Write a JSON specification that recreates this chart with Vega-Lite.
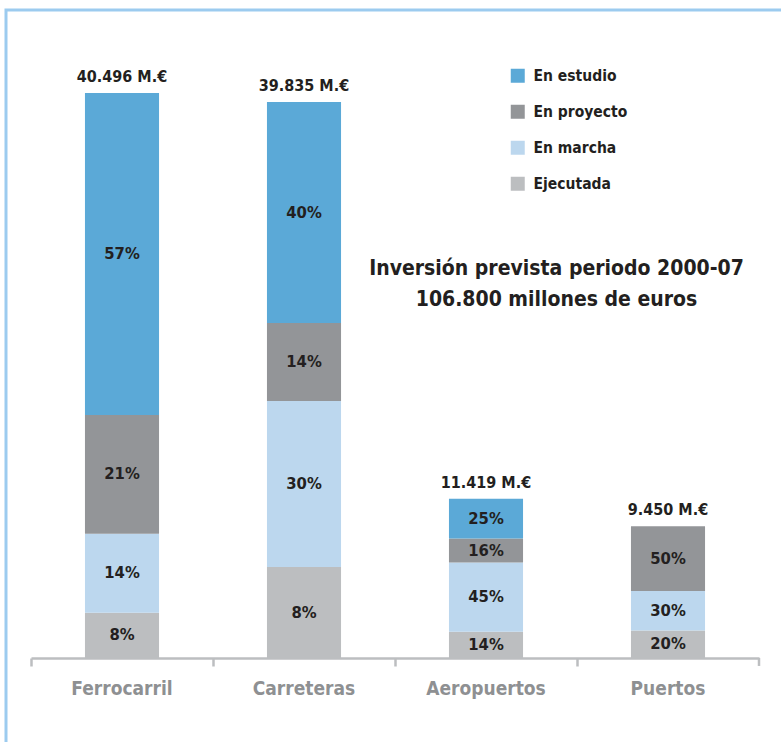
{
  "$schema": "https://vega.github.io/schema/vega-lite/v6.json",
  "autosize": "none",
  "width": 785,
  "height": 742,
  "padding": {"left": 6, "top": 10, "right": -10, "bottom": -10},
  "background": "white",
  "title": {
    "text": ["Inversión prevista periodo 2000-07", "106.800 millones de euros"],
    "anchor": "middle",
    "orient": "top",
    "baseline": "top",
    "offset": 0,
    "dx": 158,
    "dy": 300,
    "lineHeight": 31,
    "font": "Liberation Sans Narrow, DejaVu Sans Condensed, sans-serif",
    "fontSize": 21,
    "fontWeight": "bold",
    "color": "#231f20"
  },
  "datasets": {
    "tramos": [
      {"modo": "Ferrocarril", "estado": "Ejecutada", "orden": 1, "valor": 3.24, "etiqueta": "8%"},
      {"modo": "Ferrocarril", "estado": "En marcha", "orden": 2, "valor": 5.67, "etiqueta": "14%"},
      {"modo": "Ferrocarril", "estado": "En proyecto", "orden": 3, "valor": 8.5, "etiqueta": "21%"},
      {"modo": "Ferrocarril", "estado": "En estudio", "orden": 4, "valor": 23.08, "etiqueta": "57%"},
      {"modo": "Carreteras", "estado": "Ejecutada", "orden": 1, "valor": 6.52, "etiqueta": "8%"},
      {"modo": "Carreteras", "estado": "En marcha", "orden": 2, "valor": 11.9, "etiqueta": "30%"},
      {"modo": "Carreteras", "estado": "En proyecto", "orden": 3, "valor": 5.59, "etiqueta": "14%"},
      {"modo": "Carreteras", "estado": "En estudio", "orden": 4, "valor": 15.83, "etiqueta": "40%"},
      {"modo": "Aeropuertos", "estado": "Ejecutada", "orden": 1, "valor": 1.89, "etiqueta": "14%"},
      {"modo": "Aeropuertos", "estado": "En marcha", "orden": 2, "valor": 4.95, "etiqueta": "45%"},
      {"modo": "Aeropuertos", "estado": "En proyecto", "orden": 3, "valor": 1.72, "etiqueta": "16%"},
      {"modo": "Aeropuertos", "estado": "En estudio", "orden": 4, "valor": 2.86, "etiqueta": "25%"},
      {"modo": "Puertos", "estado": "Ejecutada", "orden": 1, "valor": 1.97, "etiqueta": "20%"},
      {"modo": "Puertos", "estado": "En marcha", "orden": 2, "valor": 2.83, "etiqueta": "30%"},
      {"modo": "Puertos", "estado": "En proyecto", "orden": 3, "valor": 4.65, "etiqueta": "50%"}
    ],
    "totales": [
      {"modo": "Ferrocarril", "total": 40.496, "etiqueta": "40.496 M.€"},
      {"modo": "Carreteras", "total": 39.835, "etiqueta": "39.835 M.€"},
      {"modo": "Aeropuertos", "total": 11.419, "etiqueta": "11.419 M.€"},
      {"modo": "Puertos", "total": 9.45, "etiqueta": "9.450 M.€"}
    ],
    "marcas": [
      {"modo": "Puertos", "arriba": 0, "abajo": -0.57}
    ]
  },
  "encoding": {
    "x": {
      "field": "modo",
      "type": "nominal",
      "sort": ["Ferrocarril", "Carreteras", "Aeropuertos", "Puertos"],
      "scale": {"range": [25, 753], "paddingInner": 0, "paddingOuter": 0},
      "axis": {
        "title": null,
        "labelAngle": 0,
        "offset": -94,
        "bandPosition": 0,
        "domainColor": "#bcbec0",
        "domainWidth": 2.5,
        "tickColor": "#bcbec0",
        "tickWidth": 2.5,
        "tickSize": 8,
        "labelFont": "Liberation Sans Narrow, DejaVu Sans Condensed, sans-serif",
        "labelFontSize": 19,
        "labelFontWeight": "bold",
        "labelColor": "#8e9092",
        "labelPadding": 13
      }
    }
  },
  "layer": [
    {
      "data": {"name": "tramos"},
      "mark": {"type": "bar", "width": {"band": 0.407}},
      "encoding": {
        "y": {
          "field": "valor",
          "type": "quantitative",
          "stack": "zero",
          "scale": {"domain": [0, 46.44], "range": [648, 0], "nice": false},
          "axis": null
        },
        "color": {
          "field": "estado",
          "type": "nominal",
          "scale": {
            "domain": ["En estudio", "En proyecto", "En marcha", "Ejecutada"],
            "range": ["#5ba9d7", "#939598", "#bcd7ee", "#bcbec0"]
          },
          "legend": {
            "title": null,
            "orient": "none",
            "legendX": 504,
            "legendY": 58,
            "symbolType": "square",
            "symbolSize": 196,
            "symbolStrokeWidth": 0,
            "rowPadding": 19,
            "labelFont": "Liberation Sans Narrow, DejaVu Sans Condensed, sans-serif",
            "labelFontSize": 15.5,
            "labelFontWeight": "bold",
            "labelColor": "#231f20",
            "labelOffset": 8
          }
        },
        "order": {"field": "orden", "type": "quantitative"}
      }
    },
    {
      "data": {"name": "marcas"},
      "mark": {"type": "rule", "color": "#bcbec0", "strokeWidth": 2.5},
      "encoding": {
        "x": {"field": "modo", "type": "nominal", "bandPosition": 1},
        "y": {"field": "arriba", "type": "quantitative"},
        "y2": {"field": "abajo"}
      }
    },
    {
      "data": {"name": "tramos"},
      "mark": {
        "type": "text",
        "font": "Liberation Sans Narrow, DejaVu Sans Condensed, sans-serif",
        "fontSize": 16.5,
        "fontWeight": "bold",
        "color": "#231f20",
        "baseline": "middle"
      },
      "encoding": {
        "y": {"field": "valor", "type": "quantitative", "stack": "zero", "bandPosition": 0.5},
        "detail": {"field": "estado"},
        "order": {"field": "orden", "type": "quantitative"},
        "text": {"field": "etiqueta"}
      }
    },
    {
      "data": {"name": "totales"},
      "mark": {
        "type": "text",
        "font": "Liberation Sans Narrow, DejaVu Sans Condensed, sans-serif",
        "fontSize": 16,
        "fontWeight": "bold",
        "color": "#231f20",
        "baseline": "alphabetic",
        "dy": -11
      },
      "encoding": {
        "y": {"field": "total", "type": "quantitative"},
        "text": {"field": "etiqueta"}
      }
    }
  ],
  "config": {
    "view": {"stroke": "#9ccbef", "strokeWidth": 3},
    "axis": {"grid": false}
  }
}
